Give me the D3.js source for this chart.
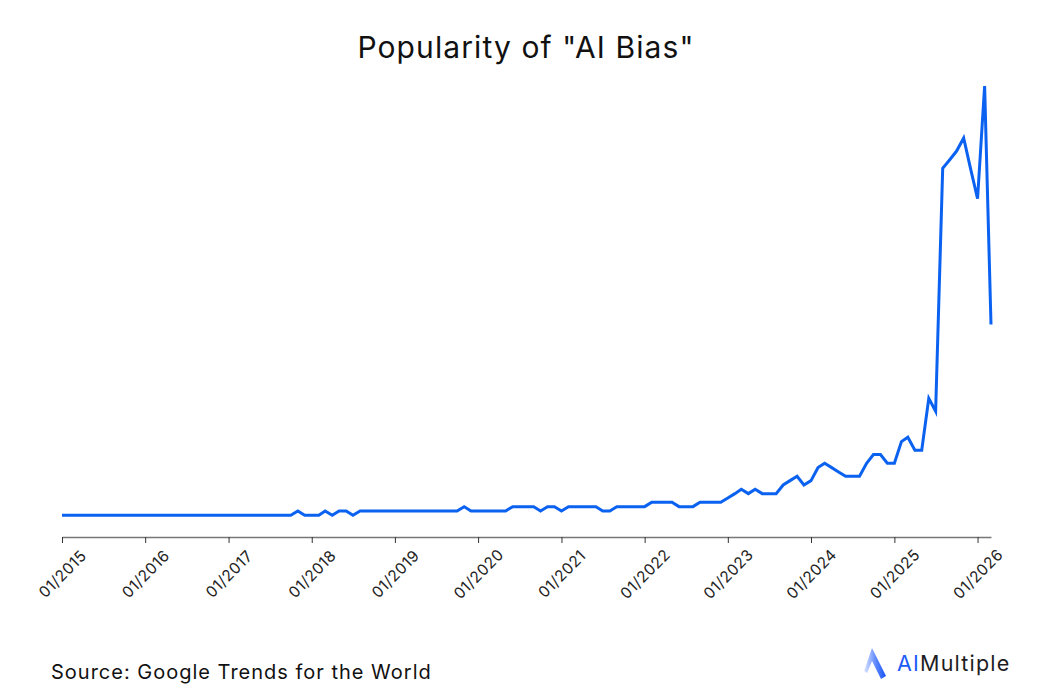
<!DOCTYPE html>
<html>
<head>
<meta charset="utf-8">
<script src="https://cdn.jsdelivr.net/npm/d3@7"></script>
<style>
  body { margin: 0; background: #fff; }
  svg { display: block; font-family: Inter, "Noto Sans", sans-serif; }
</style>
</head>
<body>
<svg id="chart" width="1040" height="700"></svg>
<script>
// monthly Google Trends index, Jan 2015 .. Mar 2026
const startMonth = "2015-01";
const values = [
  // 2015
  1, 1, 1, 1, 1, 1, 1, 1, 1, 1, 1, 1,
  // 2016
  1, 1, 1, 1, 1, 1, 1, 1, 1, 1, 1, 1,
  // 2017
  1, 1, 1, 1, 1, 1, 1, 1, 1, 1, 2, 1,
  // 2018
  1, 1, 2, 1, 2, 2, 1, 2, 2, 2, 2, 2,
  // 2019
  2, 2, 2, 2, 2, 2, 2, 2, 2, 2, 3, 2,
  // 2020
  2, 2, 2, 2, 2, 3, 3, 3, 3, 2, 3, 3,
  // 2021
  2, 3, 3, 3, 3, 3, 2, 2, 3, 3, 3, 3,
  // 2022
  3, 4, 4, 4, 4, 3, 3, 3, 4, 4, 4, 4,
  // 2023
  5, 6, 7, 6, 7, 6, 6, 6, 8, 9, 10, 8,
  // 2024
  9, 12, 13, 12, 11, 10, 10, 10, 13, 15, 15, 13,
  // 2025
  13, 18, 19, 16, 16, 28, 25, 81, 83, 85, 88, 81,
  // 2026
  74, 100, 45
];
const titleText = 'Popularity of "AI Bias"';
const sourceText = "Source: Google Trends for the World";

const parseMonth = d3.timeParse("%Y-%m");
const t0 = parseMonth(startMonth);
const data = values.map((v, i) => ({ date: d3.timeMonth.offset(t0, i), value: v }));

const svg = d3.select("#chart");

const x = d3.scaleTime()
  .domain(d3.extent(data, d => d.date))
  .range([62, 991]);

// the axis sits a little below zero
const y = d3.scaleLinear()
  .domain([-4, 100])
  .range([537, 86]);

svg.append("text")
  .attr("x", 526)
  .attr("y", 58)
  .attr("text-anchor", "middle")
  .style("font-size", "30px")
  .style("letter-spacing", "1.1px")
  .style("fill", "#111")
  .text(titleText);

const xAxis = d3.axisBottom(x)
  .ticks(d3.timeYear.every(1))
  .tickFormat(d3.timeFormat("%m/%Y"))
  .tickSize(6)
  .tickSizeOuter(0);

const gx = svg.append("g")
  .attr("transform", "translate(0,537)")
  .call(xAxis);

gx.select(".domain").attr("stroke", "#777").attr("stroke-width", 1.3);
gx.selectAll(".tick line").attr("stroke", "#333");
gx.selectAll(".tick text")
  .attr("x", 0)
  .attr("y", 0)
  .attr("dy", "0.35em")
  .attr("transform", "translate(0,37) rotate(-45)")
  .style("text-anchor", "middle")
  .style("font-size", "15.5px")
  .style("letter-spacing", "0.4px")
  .style("fill", "#222")
  .style("font-family", "Inter, sans-serif");

const line = d3.line()
  .x(d => x(d.date))
  .y(d => y(d.value));

svg.append("path")
  .datum(data)
  .attr("fill", "none")
  .attr("stroke", "#0b62f0")
  .attr("stroke-width", 3)
  .attr("stroke-linejoin", "miter")
  .attr("d", line);

svg.append("text")
  .attr("x", 51)
  .attr("y", 679)
  .style("font-size", "20px")
  .style("letter-spacing", "1px")
  .style("fill", "#111")
  .text(sourceText);

// logo
const defs = svg.append("defs");
const grad = defs.append("linearGradient")
  .attr("id", "logoGrad")
  .attr("x1", "0%").attr("y1", "0%")
  .attr("x2", "100%").attr("y2", "0%");
grad.append("stop").attr("offset", "0%").attr("stop-color", "#dfe7ff");
grad.append("stop").attr("offset", "55%").attr("stop-color", "#5b86ff");
grad.append("stop").attr("offset", "100%").attr("stop-color", "#1552f5");

svg.append("path")
  .attr("d", "M864,671 L872,648 L886,676 L881,679 L872,661 L867,673 Z")
  .attr("fill", "url(#logoGrad)");

const logo = svg.append("text")
  .attr("x", 897)
  .attr("y", 671)
  .style("font-size", "21.5px")
  .style("letter-spacing", "1.2px");
logo.append("tspan").style("fill", "#1a5cf5").text("AI");
logo.append("tspan").style("fill", "#1d1d22").text("Multiple");
</script>
</body>
</html>
